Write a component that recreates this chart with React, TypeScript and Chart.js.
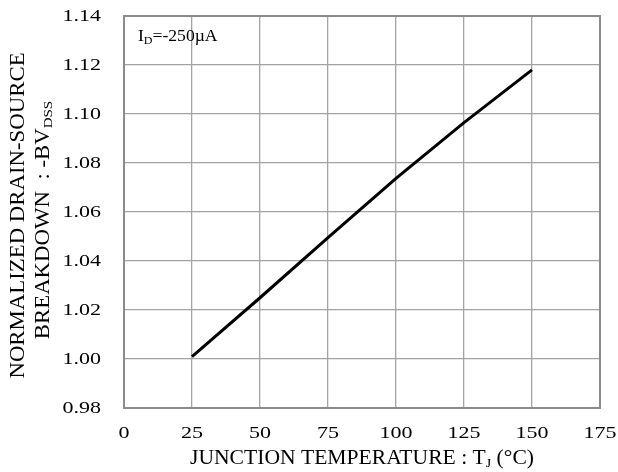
import React, { useEffect, useRef } from "react";
import { Chart, registerables } from "chart.js";

Chart.register(...registerables);

const temperatures = [25, 50, 75, 100, 125, 150];
const bvdssNorm = [1.001, 1.025, 1.0495, 1.0737, 1.0965, 1.118];
const xTickValues = [0, 25, 50, 75, 100, 125, 150, 175];
const yTickValues = [0.98, 1.0, 1.02, 1.04, 1.06, 1.08, 1.1, 1.12, 1.14];

const FONT = "'Liberation Serif', 'Times New Roman', serif";

type Seg = { t: string; sub?: boolean };
type RichOpts = {
  size: number;
  subSize: number;
  subShift: number;
  squash: number;
  align: "left" | "center" | "right";
  rotate?: boolean;
};

function drawRich(ctx: CanvasRenderingContext2D, segs: Seg[], x: number, y: number, o: RichOpts) {
  ctx.save();
  ctx.translate(x, y);
  if (o.rotate) ctx.rotate(-Math.PI / 2);
  ctx.scale(1, o.squash);
  const widths = segs.map((s) => {
    ctx.font = `${s.sub ? o.subSize : o.size}px ${FONT}`;
    return ctx.measureText(s.t).width;
  });
  const total = widths.reduce((a, b) => a + b, 0);
  let cx = o.align === "left" ? 0 : o.align === "center" ? -total / 2 : -total;
  ctx.textBaseline = "middle";
  ctx.textAlign = "left";
  ctx.fillStyle = "#000";
  segs.forEach((s, i) => {
    ctx.font = `${s.sub ? o.subSize : o.size}px ${FONT}`;
    ctx.fillText(s.t, cx, s.sub ? o.subShift / o.squash : 0);
    cx += widths[i];
  });
  ctx.restore();
}

const textPlugin = {
  id: "textPlugin",
  afterDraw(chart: any) {
    const { ctx, chartArea, scales } = chart;
    const { left, right, top, bottom } = chartArea;
    ctx.save();
    ctx.strokeStyle = "#8a8a8a";
    ctx.lineWidth = 2;
    ctx.strokeRect(left, top, right - left, bottom - top);

    const tickOpts: RichOpts = { size: 22, subSize: 14, subShift: 5, squash: 0.8, align: "right" };
    yTickValues.forEach((v) => {
      drawRich(ctx, [{ t: v.toFixed(2) }], 101, scales.y.getPixelForValue(v), tickOpts);
    });
    xTickValues.forEach((v) => {
      drawRich(ctx, [{ t: String(v) }], scales.x.getPixelForValue(v), 433, { ...tickOpts, align: "center" });
    });

    drawRich(
      ctx,
      [{ t: "JUNCTION TEMPERATURE : T" }, { t: "J", sub: true }, { t: " (°C)" }],
      (left + right) / 2,
      459,
      { size: 21.6, subSize: 14, subShift: 5, squash: 0.93, align: "center" }
    );

    const cy = (top + bottom) / 2;
    const yTitle: RichOpts = { size: 22.8, subSize: 15, subShift: 5.5, squash: 0.88, align: "center", rotate: true };
    drawRich(ctx, [{ t: "NORMALIZED DRAIN-SOURCE" }], 18.5, cy + 3.5, yTitle);
    drawRich(ctx, [{ t: "BREAKDOWN  : -BV" }, { t: "DSS", sub: true }], 43.5, cy + 8, yTitle);

    drawRich(ctx, [{ t: "I" }, { t: "D", sub: true }, { t: "=-250µA" }], left + 14, top + 21, {
      size: 17.6,
      subSize: 12,
      subShift: 4,
      squash: 0.92,
      align: "left",
    });
    ctx.restore();
  },
};

export default function App() {
  const ref = useRef<HTMLCanvasElement>(null);
  useEffect(() => {
    document.body.style.margin = "0";
    const chart = new Chart(ref.current!, {
      type: "line",
      data: {
        datasets: [
          {
            data: temperatures.map((t, i) => ({ x: t, y: bvdssNorm[i] })),
            borderColor: "#000",
            borderWidth: 3,
            pointRadius: 0,
            tension: 0,
            fill: false,
          },
        ],
      },
      options: {
        responsive: false,
        animation: false,
        layout: { padding: { top: 16, right: 18, left: 0, bottom: 0 } },
        plugins: { legend: { display: false }, tooltip: { enabled: false } },
        scales: {
          x: {
            type: "linear",
            min: 0,
            max: 175,
            afterBuildTicks: (s: any) => {
              s.ticks = xTickValues.map((v) => ({ value: v }));
            },
            afterFit: (s: any) => {
              s.height = 64;
            },
            ticks: { display: false, autoSkip: false },
            grid: { color: "#a3a3a3", lineWidth: 1.3, drawTicks: false },
            border: { display: false },
          },
          y: {
            min: 0.98,
            max: 1.14,
            afterBuildTicks: (s: any) => {
              s.ticks = yTickValues.map((v) => ({ value: v }));
            },
            afterFit: (s: any) => {
              s.width = 124;
            },
            ticks: { display: false, autoSkip: false },
            grid: { color: "#a3a3a3", lineWidth: 1.3, drawTicks: false },
            border: { display: false },
          },
        },
      },
      plugins: [textPlugin],
    });
    return () => chart.destroy();
  }, []);
  return (
    <div style={{ width: 618, height: 472, background: "#fff" }}>
      <canvas ref={ref} width={618} height={472} />
    </div>
  );
}
